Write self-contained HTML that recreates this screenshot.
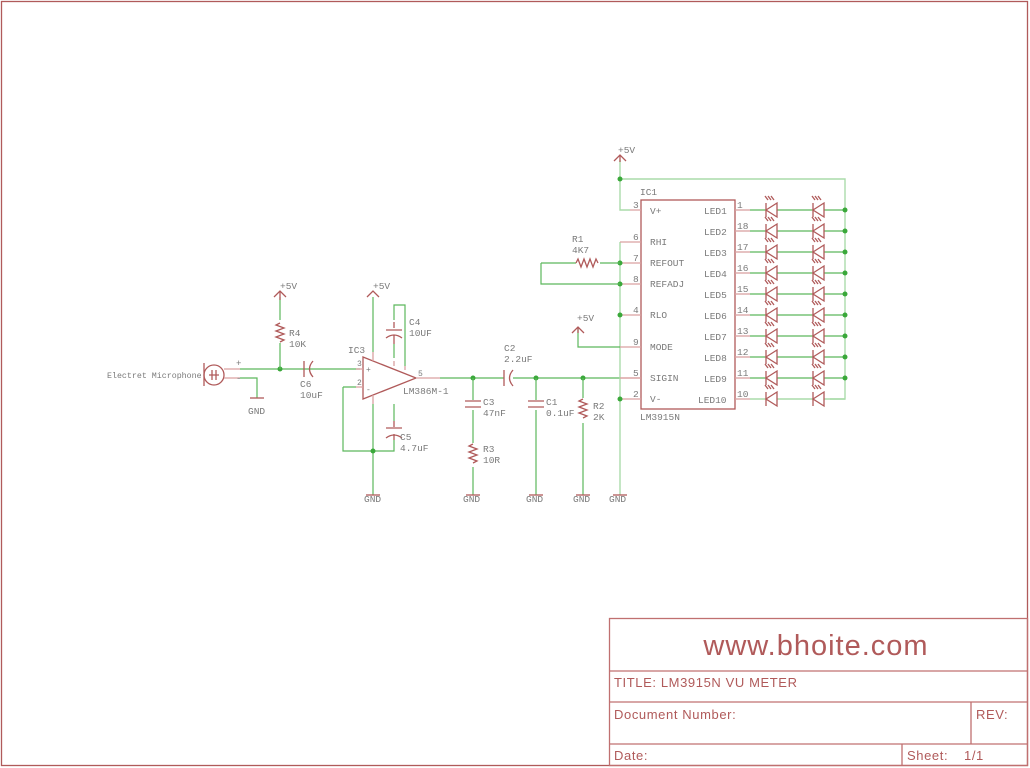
<!DOCTYPE html>
<html><head><meta charset="utf-8"><style>
html,body{margin:0;padding:0;background:#fff}
svg{display:block}
text{font-family:"Liberation Mono",monospace;fill:#7a7a7a;font-size:9.5px}
.r{stroke:#b05a5a;fill:none;stroke-width:1.3}
.g{stroke:#5cb85c;fill:none;stroke-width:1.2}
.lg{stroke:#aadcaa;fill:none;stroke-width:1.4}
.p{stroke:#d9a0a0;fill:none;stroke-width:1.3}
.j{fill:#3aa83a}
.t{fill:#b05a5a;font-family:"Liberation Sans",sans-serif}
</style></head><body>
<svg width="1030" height="768" viewBox="0 0 1030 768">
<defs>
<g id="led">
<path class="r" d="M0,0 L11,-7 L11,7 Z M0,-7 L0,7"/>
<path class="r" stroke-width="0.9" d="M2,-10 l-3,-4 M5,-10 l-3,-4 M8,-10 l-3,-4"/>
</g>
<g id="gnd"><path class="r" d="M-7,0 h14"/></g>
<g id="sup"><path class="r" d="M-6,6 L0,0 L6,6"/></g>
<g id="res"><path class="r" d="M0,0 l-4,2 l8,3 l-8,3 l8,3 l-8,3 l8,3 l-4,2"/></g>
</defs>
<rect x="1.5" y="1.5" width="1026" height="764" fill="none" stroke="#b05a5a" stroke-width="1.3"/>
<!-- title block -->
<g stroke="#c07070" stroke-width="1.3" fill="none">
<rect x="609.5" y="618.5" width="418" height="147"/>
<path d="M609,671H1028 M609,702H1028 M609,744H1028 M971,702V744 M902,744V766"/>
</g>
<text x="816" y="655" text-anchor="middle" class="t" style="font-size:29px;letter-spacing:1px">www.bhoite.com</text>
<text x="614" y="687" class="t" style="font-size:13px;letter-spacing:0.6px">TITLE:  LM3915N VU METER</text>
<text x="614" y="719" class="t" style="font-size:13px;letter-spacing:0.6px">Document Number:</text>
<text x="976" y="719" class="t" style="font-size:13px;letter-spacing:0.6px">REV:</text>
<text x="614" y="760" class="t" style="font-size:13px;letter-spacing:0.6px">Date:</text>
<text x="907" y="760" class="t" style="font-size:13px;letter-spacing:0.6px">Sheet:</text>
<text x="964" y="760" class="t" style="font-size:13px;letter-spacing:0.6px">1/1</text>

<!-- microphone -->
<circle cx="214" cy="375" r="10" class="r"/>
<path class="r" d="M204,363V386 M212,370V380 M216,370V380 M209,375H219"/>
<path class="p" d="M224,369H240 M224,378H240"/>
<text x="236" y="366" style="font-size:9px">+</text>
<text x="236" y="381" style="font-size:9px">-</text>
<text x="107" y="378" style="font-size:8.3px">Electret Microphone</text>
<path class="g" d="M240,369H360 M240,378H257V398"/>
<use href="#gnd" x="257" y="398"/><text x="248" y="414">GND</text>
<circle class="j" cx="280" cy="369" r="2.5"/>
<!-- R4 -->
<path class="g" d="M280,297V320 M280,343V369"/>
<use href="#sup" x="280" y="291"/><path class="r" d="M280,291V300"/>
<text x="280" y="289">+5V</text>
<use href="#res" x="280" y="323"/>
<text x="289" y="336">R4</text><text x="289" y="347">10K</text>
<!-- C6 -->
<path class="r" d="M304,361V377 M313,361Q306,369 313,377"/>
<text x="300" y="387">C6</text><text x="300" y="398">10uF</text>
<!-- IC3 -->
<path class="r" d="M363,357L416,378L363,399Z"/>
<text x="366" y="372" style="font-size:8px">+</text><text x="366" y="392" style="font-size:8px">-</text>
<text x="348" y="353">IC3</text>
<text x="403" y="394">LM386M-1</text>
<path class="p" d="M356,369H363 M356,387H363 M373,352V361 M373,395V404 M416,378H440 M394,361V366 M405,366V370"/>
<text x="357" y="366" style="font-size:8px">3</text><text x="357" y="385" style="font-size:8px">2</text><text x="418" y="376" style="font-size:8px">5</text>
<path class="g" d="M373,297V352 M373,404V495 M343,387H356 M343,387V451H394V440 M394,404V421"/>
<circle class="j" cx="373" cy="451" r="2.5"/>
<use href="#sup" x="373" y="291"/><text x="373" y="289">+5V</text>
<use href="#gnd" x="373" y="495"/><text x="364" y="502">GND</text>
<!-- C4 -->
<path class="g" d="M394,358V344 M394,320V305H405V366"/>
<path class="r" d="M394,322V328 M386,330H402 M386,338Q394,332 402,338 M394,335V344"/>
<text x="409" y="325">C4</text><text x="409" y="336">10UF</text>
<!-- C5 -->
<path class="r" d="M394,421V427 M386,428H402 M386,438Q394,432 402,438 M394,434V440"/>
<text x="400" y="440">C5</text><text x="400" y="451">4.7uF</text>
<!-- signal line -->
<path class="g" d="M440,378H504 M513,378H620"/>
<path class="p" d="M620,378H641"/>
<path class="r" d="M504,370V386 M513,370Q506,378 513,386"/>
<text x="504" y="351">C2</text><text x="504" y="362">2.2uF</text>
<circle class="j" cx="473" cy="378" r="2.5"/><circle class="j" cx="536" cy="378" r="2.5"/><circle class="j" cx="583" cy="378" r="2.5"/>
<!-- C3 R3 -->
<path class="g" d="M473,378V400 M473,410V443 M473,467V495"/>
<path class="r" d="M465,401H481 M465,407H481" stroke-width="2"/>
<text x="483" y="405">C3</text><text x="483" y="416">47nF</text>
<use href="#res" x="473" y="444"/>
<text x="483" y="452">R3</text><text x="483" y="463">10R</text>
<use href="#gnd" x="473" y="495"/><text x="463" y="502">GND</text>
<!-- C1 -->
<path class="g" d="M536,378V400 M536,410V495"/>
<path class="r" d="M528,401H544 M528,407H544" stroke-width="2"/>
<text x="546" y="405">C1</text><text x="546" y="416">0.1uF</text>
<use href="#gnd" x="536" y="495"/><text x="526" y="502">GND</text>
<!-- R2 -->
<path class="g" d="M583,378V398 M583,423V495"/>
<use href="#res" x="583" y="399"/>
<text x="593" y="409">R2</text><text x="593" y="420">2K</text>
<use href="#gnd" x="583" y="495"/><text x="573" y="502">GND</text>
<!-- IC1 -->
<rect x="641" y="200" width="94" height="209" class="r"/>
<text x="640" y="195">IC1</text>
<text x="640" y="420">LM3915N</text>
<path class="lg" d="M620,160V210H630 M620,179H845V399H830"/>
<circle class="j" cx="620" cy="179" r="2.5"/>
<use href="#sup" x="620" y="155"/><path class="r" d="M620,155V162"/>
<text x="618" y="153">+5V</text>
<path class="lg" d="M620,242V495"/>
<use href="#gnd" x="620" y="495"/><text x="609" y="502">GND</text>
<path class="p" d="M630,210H641 M620,242H641 M620,263H641 M620,284H641 M620,315H641 M620,347H641 M620,378H641 M620,399H641"/>
<g style="font-size:8px">
<text x="633" y="208">3</text><text x="633" y="240">6</text><text x="633" y="261">7</text><text x="633" y="282">8</text><text x="633" y="313">4</text><text x="633" y="345">9</text><text x="633" y="376">5</text><text x="633" y="397">2</text>
</g>
<g style="font-size:8.5px">
<text x="650" y="214">V+</text><text x="650" y="245">RHI</text><text x="650" y="266">REFOUT</text><text x="650" y="287">REFADJ</text><text x="650" y="318">RLO</text><text x="650" y="350">MODE</text><text x="650" y="381">SIGIN</text><text x="650" y="402">V-</text>
</g>
<circle class="j" cx="620" cy="263" r="2.5"/><circle class="j" cx="620" cy="284" r="2.5"/><circle class="j" cx="620" cy="315" r="2.5"/><circle class="j" cx="620" cy="399" r="2.5"/>
<!-- R1 -->
<path class="g" d="M541,263H576 M600,263H620 M541,263V284H620"/>
<path class="r" d="M576,263 l2,-4 l3,8 l3,-8 l3,8 l3,-8 l3,8 l3,-8 l2,4"/>
<text x="572" y="242">R1</text><text x="572" y="253">4K7</text>
<!-- MODE +5V -->
<path class="g" d="M578,327V347H620"/>
<use href="#sup" x="578" y="327"/><path class="r" d="M578,327V333"/>
<text x="577" y="321">+5V</text>
<!-- LEDs -->
<g style="font-size:8.5px">
<text x="704" y="214">LED1</text><text x="704" y="235">LED2</text><text x="704" y="256">LED3</text><text x="704" y="277">LED4</text><text x="704" y="298">LED5</text><text x="704" y="319">LED6</text><text x="704" y="340">LED7</text><text x="704" y="361">LED8</text><text x="704" y="382">LED9</text><text x="698" y="403">LED10</text>
</g>
<g style="font-size:8px">
<text x="737" y="208">1</text><text x="737" y="229">18</text><text x="737" y="250">17</text><text x="737" y="271">16</text><text x="737" y="292">15</text><text x="737" y="313">14</text><text x="737" y="334">13</text><text x="737" y="355">12</text><text x="737" y="376">11</text><text x="737" y="397">10</text>
</g>
<g id="row">
<path class="p" d="M735,210H750"/>
<path class="g" d="M750,210H766 M777,210H813 M824,210H845"/>
<use href="#led" x="766" y="210"/><use href="#led" x="813" y="210"/>
<circle class="j" cx="845" cy="210" r="2.5"/>
</g>
<use href="#row" y="21"/><use href="#row" y="42"/><use href="#row" y="63"/><use href="#row" y="84"/><use href="#row" y="105"/><use href="#row" y="126"/><use href="#row" y="147"/><use href="#row" y="168"/>
<path class="p" d="M735,399H750"/>
<path class="lg" d="M750,399H766 M777,399H813 M824,399H845"/>
<use href="#led" x="766" y="399"/><use href="#led" x="813" y="399"/>
</svg>
</body></html>
